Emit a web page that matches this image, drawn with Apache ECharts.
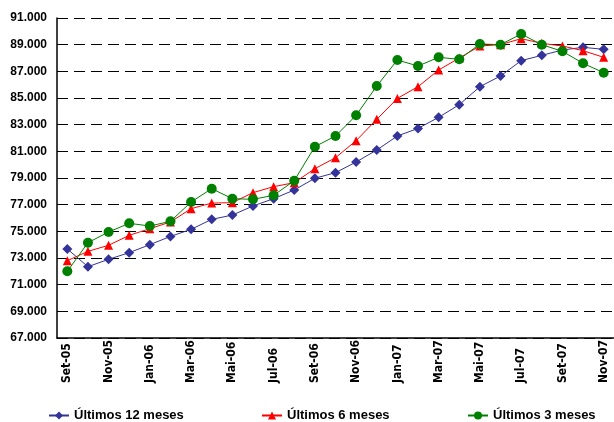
<!DOCTYPE html>
<html>
<head>
<meta charset="utf-8">
<script src="https://cdn.jsdelivr.net/npm/echarts@6/dist/echarts.min.js"></script>
<style>
html,body{margin:0;padding:0;background:#fff;}
#chart{width:614px;height:422px;}
</style>
</head>
<body>
<div id="chart"></div>
<script>
var categories = ["Set-05","Out-05","Nov-05","Dez-05","Jan-06","Fev-06","Mar-06","Abr-06","Mai-06","Jun-06","Jul-06","Ago-06","Set-06","Out-06","Nov-06","Dez-06","Jan-07","Fev-07","Mar-07","Abr-07","Mai-07","Jun-07","Jul-07","Ago-07","Set-07","Out-07","Nov-07"];
var ultimos12 = [73675,72350,72900,73400,74000,74620,75150,75900,76220,76900,77450,78100,78980,79400,80200,81100,82150,82720,83550,84500,85850,86650,87800,88200,88600,88800,88650];
var ultimos6 = [72800,73500,73950,74700,75200,75700,76700,77120,77150,77900,78350,78650,79700,80520,81800,83400,84970,85850,87100,88000,88900,89000,89450,89100,88900,88550,88050];
var ultimos3 = [72000,74150,74950,75600,75400,75750,77200,78200,77450,77400,77700,78800,81350,82150,83700,85900,87850,87400,88050,87900,89050,89000,89800,89000,88500,87600,86900];
var seriesNames = ["Últimos 12 meses","Últimos 6 meses","Últimos 3 meses"];
var yMin = 67000, yMax = 91000, yStep = 2000;

var font = "'Liberation Sans', Arial, sans-serif";
var narrow = "'Liberation Sans Narrow', 'Arial Narrow', 'DejaVu Sans Condensed', sans-serif";
var chart = echarts.init(document.getElementById('chart'), null, {renderer:'canvas'});

function legend(name, left){
  return {
    data:[name], left:left, top:409, itemWidth:20, itemHeight:10, itemGap:0,
    textStyle:{fontFamily:font, fontWeight:'bold', fontSize:13, color:'#000'},
    padding:0, selectedMode:false
  };
}

chart.setOption({
  animation:false,
  backgroundColor:'#fff',
  grid:{left:57, right:-10, top:18, bottom:84, containLabel:false},
  legend:[legend(seriesNames[0],48), legend(seriesNames[1],261), legend(seriesNames[2],467)],
  xAxis:{
    type:'category', data:categories, boundaryGap:true,
    axisLine:{lineStyle:{color:'#000', width:1.5}},
    axisTick:{show:false},
    axisLabel:{interval:1, rotate:90, align:'left', margin:45,
      fontFamily:narrow, fontWeight:'bold', fontSize:12, color:'#000'},
    splitLine:{show:false}
  },
  yAxis:{
    type:'value', min:yMin, max:yMax, interval:yStep,
    axisLine:{show:true, lineStyle:{color:'#000', width:1.5}},
    axisTick:{show:false},
    axisLabel:{margin:10, fontFamily:font, fontWeight:'bold', fontSize:12, color:'#000',
      formatter:function(v){ return (v/1000).toFixed(3); }},
    splitLine:{show:true, lineStyle:{color:'#000', width:1, type:[11,6]}}
  },
  series:[
    {name:seriesNames[0], type:'line', data:ultimos12, symbol:'diamond', symbolSize:10,
      itemStyle:{color:'#333399'}, lineStyle:{color:'#333399', width:1}},
    {name:seriesNames[1], type:'line', data:ultimos6, symbol:'triangle', symbolSize:9,
      itemStyle:{color:'#FF0000'}, lineStyle:{color:'#FF0000', width:1}},
    {name:seriesNames[2], type:'line', data:ultimos3, symbol:'circle', symbolSize:10,
      itemStyle:{color:'#008000'}, lineStyle:{color:'#008000', width:1}}
  ]
});
</script>
</body>
</html>
